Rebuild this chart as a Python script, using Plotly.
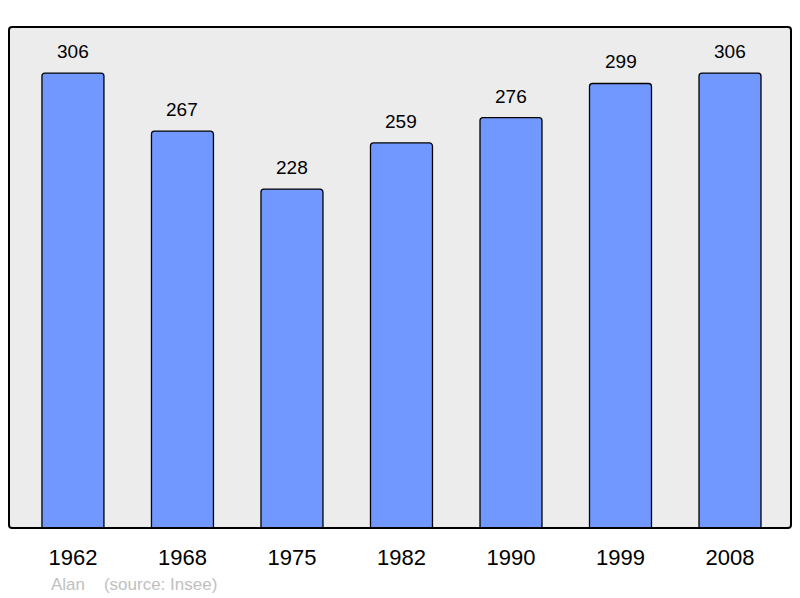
import plotly.graph_objects as go

years = ["1962", "1968", "1975", "1982", "1990", "1999", "2008"]
population = [306, 267, 228, 259, 276, 299, 306]

xs = list(range(len(years)))

fig = go.Figure()
fig.add_trace(go.Bar(
    x=xs, y=population, width=0.566,
    marker=dict(color="#7098ff", line=dict(color="#000000", width=1.3), cornerradius=3),
    hoverinfo="skip",
))

for x, v in zip(xs, population):
    fig.add_annotation(x=x, y=v, text=str(v), showarrow=False, yanchor="bottom",
                       yshift=9, font=dict(family="Liberation Sans, Arial", size=19, color="#000000"))

fig.add_annotation(xref="paper", yref="paper", x=(49 - 9) / 782, y=-(584 - 528) / 501,
                   xanchor="left", yanchor="middle", showarrow=False,
                   text="Alan&nbsp;&nbsp;&nbsp;&nbsp;(source: Insee)",
                   font=dict(family="Liberation Sans, Arial", size=17, color="#c0c0c0"))

# rounded border of plot area
fig.add_shape(type="path", xref="paper", yref="paper",
              path="M 0.004,0 L 0.996,0 Q 1,0 1,0.006 L 1,0.994 Q 1,1 0.996,1 L 0.004,1 Q 0,1 0,0.994 L 0,0.006 Q 0,0 0.004,0 Z",
              line=dict(color="#000000", width=2), layer="above")

fig.update_layout(
    width=792, height=590,
    margin=dict(l=1, r=9, t=19, b=70),
    paper_bgcolor="#ffffff", plot_bgcolor="#ececec",
    showlegend=False,
    xaxis=dict(range=[-0.584, 6.557], tickvals=xs, ticktext=years, showgrid=False,
               zeroline=False, showline=False, ticks="outside", ticklen=10, tickcolor="rgba(0,0,0,0)",
               tickfont=dict(family="Liberation Sans, Arial", size=22, color="#000000")),
    yaxis=dict(range=[0, 337], showgrid=False, zeroline=False, showticklabels=False, showline=False),
)

fig.write_html("out.html")
